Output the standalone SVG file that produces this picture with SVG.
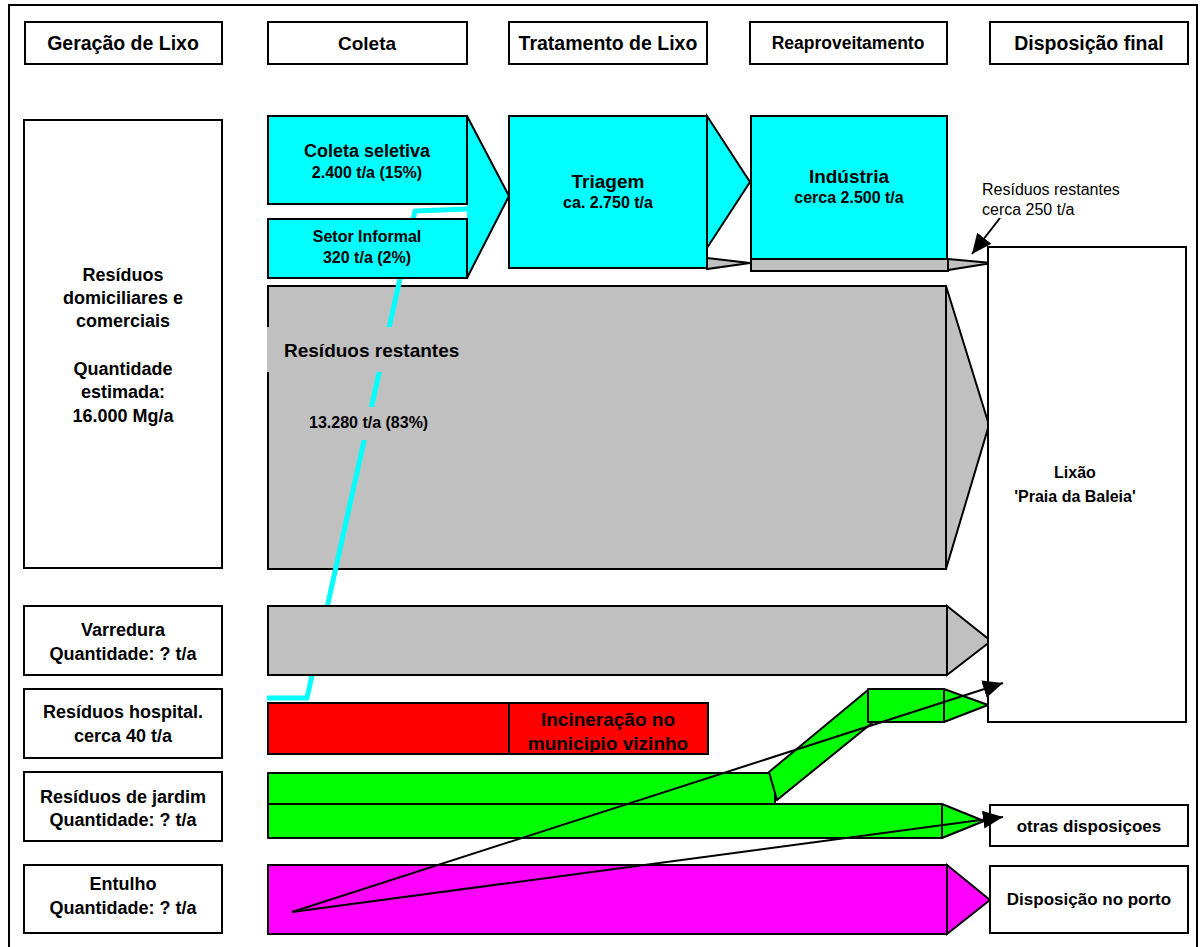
<svg xmlns="http://www.w3.org/2000/svg" width="1200" height="947" viewBox="0 0 1200 947">
<style>
text{font-family:"Liberation Sans",Arial,sans-serif;fill:#000}
.b{font-weight:bold;text-anchor:middle}
.box{fill:#fff;stroke:#000;stroke-width:2}
.cy{fill:#00ffff;stroke:#000;stroke-width:2}
.gr{fill:#c0c0c0;stroke:#000;stroke-width:2}
.rd{fill:#ff0000;stroke:#000;stroke-width:2}
.gn{fill:#00ff00;stroke:#000;stroke-width:2;stroke-linejoin:round}
.mg{fill:#ff00ff;stroke:#000;stroke-width:2}
.edge{fill:none;stroke:#000;stroke-width:2;stroke-linejoin:round}
.nf{stroke:none}
.con{fill:none;stroke:#000;stroke-width:2}
</style>
<defs>
<marker id="ah" markerUnits="userSpaceOnUse" markerWidth="22" markerHeight="18" refX="20" refY="9" orient="auto">
<path d="M0,0 L20,9 L0,18 Z" fill="#000"/>
</marker>
<clipPath id="incClip"><rect x="509" y="703" width="199" height="49"/></clipPath>
</defs>
<rect x="9" y="5" width="1188" height="960" fill="#fff" stroke="#000" stroke-width="2"/>

<g id="header-geracao"><rect class="box" x="25" y="22" width="197" height="42"/><text class="b" x="123" y="50" font-size="19.5">Geração de Lixo</text></g>
<g id="header-coleta"><rect class="box" x="268" y="22" width="199" height="42"/><text class="b" x="367" y="50" font-size="19">Coleta</text></g>
<g id="header-tratamento"><rect class="box" x="509" y="22" width="198" height="42"/><text class="b" x="608" y="50" font-size="19.5">Tratamento de Lixo</text></g>
<g id="header-reaproveitamento"><rect class="box" x="750" y="22" width="197" height="42"/><text class="b" x="848" y="49" font-size="17.5">Reaproveitamento</text></g>
<g id="header-disposicao"><rect class="box" x="990" y="22" width="198" height="42"/><text class="b" x="1089" y="50" font-size="19.5">Disposição final</text></g>

<g id="src-domiciliares"><rect class="box" x="24" y="120" width="198" height="448"/>
<text class="b" font-size="18"><tspan x="123" y="281">Resíduos</tspan><tspan x="123" y="304">domiciliares e</tspan><tspan x="123" y="327">comerciais</tspan><tspan x="123" y="375">Quantidade</tspan><tspan x="123" y="398">estimada:</tspan><tspan x="123" y="422">16.000 Mg/a</tspan></text></g>
<g id="src-varredura"><rect class="box" x="24" y="606" width="198" height="69"/><text class="b" font-size="18"><tspan x="123" y="636">Varredura</tspan><tspan x="123" y="660">Quantidade: ? t/a</tspan></text></g>
<g id="src-hospital"><rect class="box" x="24" y="689" width="198" height="69"/><text class="b" font-size="18"><tspan x="123" y="718">Resíduos hospital.</tspan><tspan x="123" y="742">cerca 40 t/a</tspan></text></g>
<g id="src-jardim"><rect class="box" x="24" y="772" width="198" height="69"/><text class="b" font-size="18"><tspan x="123" y="803">Resíduos de jardim</tspan><tspan x="123" y="826">Quantidade: ? t/a</tspan></text></g>
<g id="src-entulho"><rect class="box" x="24" y="865" width="198" height="68"/><text class="b" font-size="18"><tspan x="123" y="890">Entulho</tspan><tspan x="123" y="914">Quantidade: ? t/a</tspan></text></g>

<g id="flow-restantes">
<polygon class="gr" points="946,286 989,425 946,569"/>
<rect class="gr" x="268" y="286" width="678" height="283"/>
</g>

<g id="coleta-seletiva">
<polygon class="cy nf" points="467,116 509,196 467,278"/>
<polyline class="edge" points="467,116 509,196 467,278"/>
<rect class="cy" x="268" y="116" width="199" height="88"/>
<text class="b" x="367" y="157" font-size="18">Coleta seletiva</text>
<text class="b" x="367" y="178" font-size="16">2.400 t/a (15%)</text>
</g>

<g id="informal-line">
<polyline points="467,209 415,211 307,698 267,698" fill="none" stroke="#00ffff" stroke-width="5" stroke-linejoin="round"/>
</g>

<g id="setor-informal">
<rect class="cy" x="268" y="219" width="199" height="59"/>
<text class="b" x="367" y="242" font-size="16">Setor Informal</text>
<text class="b" x="367" y="263" font-size="16">320 t/a (2%)</text>
</g>

<g id="label-restantes">
<rect x="267" y="327" width="200" height="45" fill="#c0c0c0"/>
<text x="284" y="357" font-size="19" font-weight="bold">Resíduos restantes</text>
<rect x="305" y="407" width="130" height="33" fill="#c0c0c0"/>
<text x="309" y="428" font-size="16" font-weight="bold">13.280 t/a (83%)</text>
</g>

<g id="triagem">
<polygon class="gr" points="707,258 750,263 707,269"/>
<polygon class="cy" points="707,116 750,182 707,248"/>
<rect class="cy" x="509" y="116" width="198" height="152"/>
<text class="b" x="608" y="188" font-size="19">Triagem</text>
<text class="b" x="608" y="208" font-size="16">ca. 2.750 t/a</text>
</g>

<g id="industria">
<polygon class="gr" points="948,259 992,263 948,270"/>
<rect class="cy" x="751" y="116" width="196" height="143"/>
<rect class="gr" x="751" y="259" width="197" height="12"/>
<text class="b" x="849" y="183" font-size="19">Indústria</text>
<text class="b" x="849" y="203" font-size="16">cerca 2.500 t/a</text>
</g>

<g id="label-250">
<text x="982" y="195" font-size="16">Resíduos restantes</text>
<text x="982" y="215" font-size="16">cerca 250 t/a</text>
</g>

<g id="flow-varredura">
<polygon class="gr" points="947,606 991,641 947,675"/>
<rect class="gr" x="268" y="606" width="679" height="69"/>
</g>

<g id="incineracao">
<rect class="rd" x="268" y="703" width="241" height="51"/>
<rect class="rd" x="509" y="703" width="199" height="51"/>
<g clip-path="url(#incClip)">
<text class="b" x="608" y="726" font-size="19">Incineração no</text>
<text class="b" x="608" y="750" font-size="19">municipio vizinho</text>
</g>
<rect x="509" y="703" width="199" height="51" fill="none" stroke="#000" stroke-width="2"/>
</g>

<g id="flow-jardim">
<polygon class="gn" points="942,804 984,821 942,838"/>
<rect class="gn" x="268" y="804" width="674" height="34"/>
<rect class="gn" x="268" y="773" width="507" height="31"/>
<polygon class="gn" points="944,689 988,705 944,722"/>
<polygon class="gn" points="769,772 868,690 872,723 777,800"/>
<rect class="gn" x="868" y="689" width="76" height="33"/>
</g>

<g id="flow-entulho">
<polygon class="mg" points="947,865 990,900 947,934"/>
<rect class="mg" x="268" y="865" width="679" height="69"/>
</g>

<g id="lixao">
<rect class="box" x="988" y="247" width="198" height="475"/>
<text class="b" x="1075" y="478" font-size="16">Lixão</text>
<text class="b" x="1075" y="502" font-size="16">'Praia da Baleia'</text>
</g>

<g id="otras">
<rect class="box" x="990" y="805" width="198" height="41"/>
<text class="b" x="1089" y="832" font-size="17">otras disposiçoes</text>
</g>

<g id="porto">
<rect class="box" x="990" y="866" width="198" height="67"/>
<text class="b" x="1089" y="905" font-size="17">Disposição no porto</text>
</g>

<g id="connectors">
<line class="con" x1="292" y1="912" x2="1003" y2="683" marker-end="url(#ah)"/>
<line class="con" x1="292" y1="912" x2="1003" y2="817" marker-end="url(#ah)"/>
<line class="con" x1="1000" y1="218" x2="972" y2="254" marker-end="url(#ah)"/>
</g>
</svg>
